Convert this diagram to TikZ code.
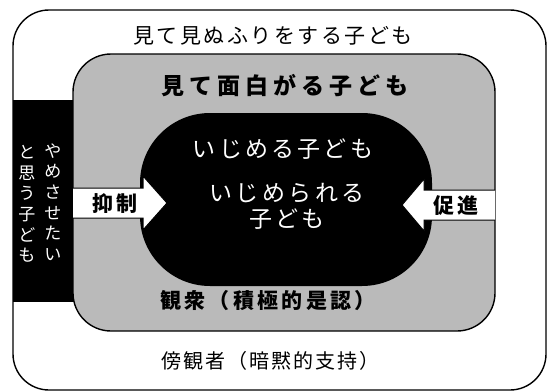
\documentclass[tikz,border=0pt]{standalone}
\usepackage{fontspec}
\newfontfamily\jpfont{Noto Sans CJK JP}
\usetikzlibrary{positioning}

\begin{document}
\begin{tikzpicture}[x=1pt, y=-1pt,
        label/.style={inner sep=0pt, font=\jpfont},
        bold/.style={inner sep=0pt, font=\jpfont\bfseries},
        white/.style={inner sep=0pt, text=white, font=\jpfont}]
        \useasboundingbox (0,0) rectangle (547,391);
        % outer: bystanders
        \draw[line width=1.4pt, rounded corners=36pt] (13,10) rectangle (546,390);
        \fill (13,100) rectangle (74,302);
        \draw[line width=1.4pt, fill=black!27, rounded corners=38pt] (73,54) rectangle (495,331);
        \fill[rounded corners=70pt] (140,113) rectangle (432,286);
        % arrows
        \draw[line width=1pt, fill=white] (73,188) -- (143,188) -- (143,176) -- (167,203)
          -- (143,230) -- (143,218) -- (73,218);
        \draw[line width=1pt, fill=white] (495,190) -- (424,190) -- (424,179) -- (402,205)
          -- (424,231) -- (424,220) -- (495,220);
        % texts
        \node[label, font=\jpfont\fontsize{21}{21}\selectfont\addfontfeature{LetterSpace=12}] (see) at (273,36) {見て見ぬふりをする子ども};
        \node[bold, font=\jpfont\bfseries\fontsize{23}{23}\selectfont\addfontfeature{LetterSpace=22}] (fun) at (285,86) {見て面白がる子ども};
        \node[white, font=\jpfont\fontsize{23}{23}\selectfont\addfontfeature{LetterSpace=14}] (bully) at (283,149) {いじめる子ども};
        \node[white, align=center, font=\jpfont\fontsize{23}{26}\selectfont\addfontfeature{LetterSpace=15}] (victim) at (287,206) {いじめられる\\子ども};
        \node[bold, font=\jpfont\bfseries\fontsize{21}{21}\selectfont\addfontfeature{LetterSpace=12}] (supp) at (115,204) {抑制};
        \node[bold, font=\jpfont\bfseries\fontsize{21}{21}\selectfont\addfontfeature{LetterSpace=12}] (prom) at (456,206) {促進};
        \node[white, align=center, font=\jpfont\fontsize{17}{20.6}\selectfont] (stop1) at (53,202) {や\\め\\さ\\せ\\た\\い};
        \node[white, align=center, font=\jpfont\fontsize{17}{20.6}\selectfont] (stop2) at (27,204) {と\\思\\う\\子\\ど\\も};
        \node[bold, font=\jpfont\bfseries\fontsize{21}{21}\selectfont\addfontfeature{LetterSpace=16}] (aud) at (268,301) {観衆（積極的是認）};
        \node[label, font=\jpfont\fontsize{20}{20}\selectfont\addfontfeature{LetterSpace=10}] (byst) at (270,361) {傍観者（暗黙的支持）};
\end{tikzpicture}
\end{document}
